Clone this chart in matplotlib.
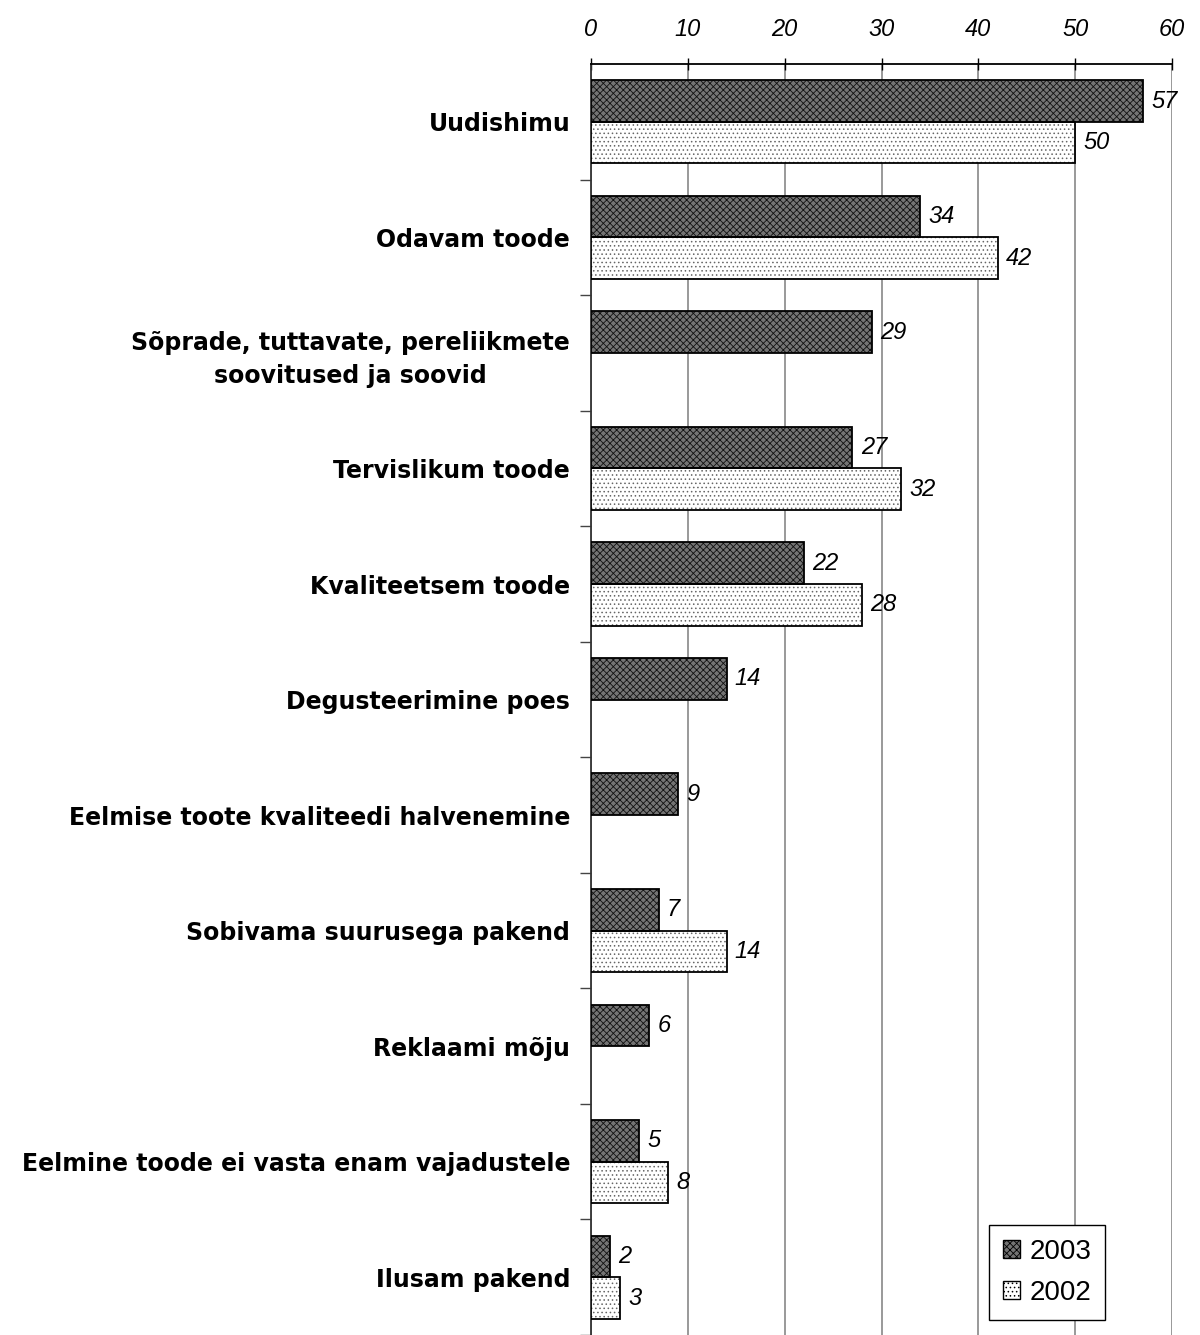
import matplotlib
matplotlib.use("Agg")
import matplotlib.pyplot as plt
import numpy as np

plt.rcParams['font.family'] = ['Liberation Sans', 'DejaVu Sans']
plt.rcParams['hatch.linewidth'] = 0.6

categories = [
    "Uudishimu",
    "Odavam toode",
    "Sõprade, tuttavate, pereliikmete\nsoovitused ja soovid",
    "Tervislikum toode",
    "Kvaliteetsem toode",
    "Degusteerimine poes",
    "Eelmise toote kvaliteedi halvenemine",
    "Sobivama suurusega pakend",
    "Reklaami mõju",
    "Eelmine toode ei vasta enam vajadustele",
    "Ilusam pakend",
]
values_2003 = [57, 34, 29, 27, 22, 14, 9, 7, 6, 5, 2]
values_2002 = [50, 42, None, 32, 28, None, None, 14, None, 8, 3]
xticks = [0, 10, 20, 30, 40, 50, 60]

fig = plt.figure(figsize=(12, 13.35), dpi=100)
ax = fig.add_axes([0.4925, 0.0, 0.4842, 0.952])

y = np.arange(len(categories))
h = 0.36

# 2003: dark cross-hatched bars
ax.barh(y - h / 2, values_2003, height=h, color='#747474', edgecolor='#111111',
        hatch='xxxxx', linewidth=0, zorder=3)
ax.barh(y - h / 2, values_2003, height=h, fill=False, edgecolor='black',
        linewidth=1.3, zorder=4)

# 2002: light dotted bars
idx = [i for i, v in enumerate(values_2002) if v is not None]
v02 = [values_2002[i] for i in idx]
ax.barh(y[idx] + h / 2, v02, height=h, color='white', edgecolor='#666666',
        hatch='....', linewidth=0, zorder=3)
ax.barh(y[idx] + h / 2, v02, height=h, fill=False, edgecolor='black',
        linewidth=1.3, zorder=4)

for i, v in enumerate(values_2003):
    ax.text(v + 0.85, y[i] - h / 2, str(v), va='center', ha='left',
            style='italic', fontsize=17, zorder=5)
for i, v in zip(idx, v02):
    ax.text(v + 0.85, y[i] + h / 2, str(v), va='center', ha='left',
            style='italic', fontsize=17, zorder=5)

ax.set_xlim(0, 60)
ax.set_ylim(len(categories) - 0.5, -0.5)
ax.xaxis.tick_top()
ax.set_xticks(xticks)
ax.set_xticklabels([str(t) for t in xticks], style='italic', fontsize=17)
ax.tick_params(axis='x', direction='inout', length=9, width=1, pad=12)

ax.set_yticks(y)
ax.set_yticklabels(categories, fontsize=17, fontweight='bold',
                   family=['DejaVu Sans'], multialignment='center',
                   linespacing=1.45)
ax.tick_params(axis='y', length=0, pad=15)
ax.set_yticks(np.arange(len(categories)) + 0.5, minor=True)
ax.tick_params(axis='y', which='minor', direction='out', length=8, width=1, color='#444444')

ax.grid(axis='x', color='#888888', linewidth=1.2, zorder=0)
for s in ['right', 'bottom']:
    ax.spines[s].set_visible(False)
ax.spines['left'].set_color('#333333')
ax.spines['left'].set_linewidth(1.3)
ax.spines['top'].set_linewidth(1.3)

handles = [
    plt.Rectangle((0, 0), 1, 1, facecolor='#747474', edgecolor='black', hatch='xxxxx'),
    plt.Rectangle((0, 0), 1, 1, facecolor='white', edgecolor='black', hatch='....'),
]
leg = ax.legend(handles, ['2003', '2002'], loc='lower right',
                bbox_to_anchor=(0.885, 0.012), borderaxespad=0, fontsize=20,
                fancybox=False, edgecolor='black', framealpha=1,
                handlelength=0.6, handleheight=0.6, handletextpad=0.35,
                borderpad=0.5, labelspacing=0.55)
leg.get_frame().set_linewidth(1.0)
leg.set_zorder(6)

fig.savefig("out.png", dpi=100)
